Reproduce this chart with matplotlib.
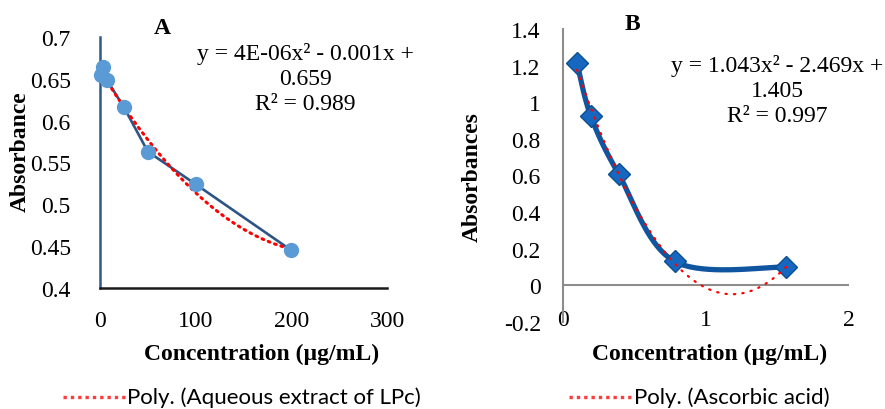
import numpy as np
import matplotlib.pyplot as plt
from matplotlib.lines import Line2D

# panel A: aqueous extract of LPc
conc_a = [1, 3, 7, 25, 50, 100, 200]
abs_a = [0.654, 0.664, 0.649, 0.616, 0.563, 0.524, 0.445]
xticks_a = [0, 100, 200, 300]
yticks_a = [0.4, 0.45, 0.5, 0.55, 0.6, 0.65, 0.7]
ylabels_a = ["0.4", "0.45", "0.5", "0.55", "0.6", "0.65", "0.7"]
eq_a = "y = 4E-06x² - 0.001x +\n0.659\nR² = 0.989"
legend_a = "Poly. (Aqueous extract of LPc)"

# panel B: ascorbic acid
conc_b = [0.098, 0.195, 0.39, 0.78, 1.5625]
abs_b = [1.213, 0.923, 0.607, 0.131, 0.100]
xticks_b = [0, 1, 2]
yticks_b = [-0.2, 0, 0.2, 0.4, 0.6, 0.8, 1, 1.2, 1.4]
ylabels_b = ["-0.2", "0", "0.2", "0.4", "0.6", "0.8", "1", "1.2", "1.4"]
eq_b = "y = 1.043x² - 2.469x +\n1.405\nR² = 0.997"
legend_b = "Poly. (Ascorbic acid)"

xlabel = "Concentration (µg/mL)"

W, H = 885, 410
SERIF = "Liberation Serif"
SANS = "Lato"
RED_DOT = (0, (0.6, 1.6))


def px(x, y):
    return x / W, 1 - y / H


def smooth(xs, ys, n=40):
    # excel-like smoothed line (catmull-rom through the points)
    p = np.column_stack([xs, ys]).astype(float)
    p = np.vstack([p[0], p, p[-1]])
    out = []
    t = np.linspace(0, 1, n)[:, None]
    for i in range(1, len(p) - 2):
        p0, p1, p2, p3 = p[i - 1], p[i], p[i + 1], p[i + 2]
        m1 = (p2 - p0) / 2
        m2 = (p3 - p1) / 2
        h00 = 2 * t**3 - 3 * t**2 + 1
        h10 = t**3 - 2 * t**2 + t
        h01 = -2 * t**3 + 3 * t**2
        h11 = t**3 - t**2
        out.append(h00 * p1 + h10 * m1 + h01 * p2 + h11 * m2)
    out = np.vstack(out)
    return out[:, 0], out[:, 1]


fig = plt.figure(figsize=(W / 100, H / 100), dpi=100)

# ---- A ----
axA = fig.add_axes([100 / W, 1 - 289 / H, 287 / W, 251 / H])
axA.plot(conc_a, abs_a, color="#2C5585", lw=1.9, zorder=2)
c = np.polyfit(conc_a, abs_a, 2)
xf = np.linspace(min(conc_a), max(conc_a), 200)
axA.plot(xf, np.polyval(c, xf), color="#FF0000", lw=2.2, ls=RED_DOT,
         dash_capstyle="round", zorder=3)
axA.plot(conc_a, abs_a, ls="none", marker="o", ms=10, color="#5B9BD5",
         mec="#5B9BD5", zorder=4, clip_on=False)
axA.set_xlim(0, 300)
axA.set_ylim(0.4, 0.7)
axA.set_xticks(xticks_a)
axA.set_yticks(yticks_a)
axA.set_yticklabels(ylabels_a)
axA.spines[["top", "right"]].set_visible(False)
axA.spines["left"].set_color("#2F5B8C")
axA.spines["left"].set_linewidth(1.8)
axA.spines["bottom"].set_color("#1A1A1A")
axA.spines["bottom"].set_linewidth(1.8)
axA.tick_params(length=0, labelsize=17, labelfontfamily=SERIF)
axA.tick_params(axis="x", pad=16)
axA.tick_params(axis="y", pad=21)

# ---- B ----
axB = fig.add_axes([563 / W, 1 - 323 / H, 286 / W, 293 / H])
axB.axhline(0, color="#8C8C8C", lw=1.5, zorder=1)
sx, sy = smooth(conc_b, abs_b)
axB.plot(sx, sy, color="#0F55A0", lw=3.8, solid_capstyle="round", zorder=2)
axB.plot(conc_b, abs_b, ls="none", marker="D", ms=11, color="#1667C0",
         mec="#0D4F8F", mew=1, zorder=3)
c = np.polyfit(conc_b, abs_b, 2)
xf = np.linspace(min(conc_b), max(conc_b), 200)
axB.plot(xf, np.polyval(c, xf), color="#FF0000", lw=1.6, ls=(0, (0.6, 3.2)),
         dash_capstyle="round", zorder=4)
axB.set_xlim(0, 2)
axB.set_ylim(-0.2, 1.4)
axB.set_xticks(xticks_b)
axB.set_yticks(yticks_b)
axB.set_yticklabels(ylabels_b)
axB.spines[["top", "right", "bottom"]].set_visible(False)
axB.spines["left"].set_color("#8C8C8C")
axB.spines["left"].set_linewidth(1.5)
axB.tick_params(length=0, labelsize=17, labelfontfamily=SERIF)
axB.tick_params(axis="x", pad=-9)
axB.tick_params(axis="y", pad=16)

# ---- texts ----
bold = dict(family=SERIF, fontsize=17, fontweight="bold", ha="center", va="center")
fig.text(*px(162, 28), "A", **bold)
fig.text(*px(632, 25), "B", **bold)
fig.text(*px(20, 152), "Absorbance", rotation=90, **bold)
fig.text(*px(472, 177), "Absorbances", rotation=90, **bold)
fig.text(*px(262, 354), xlabel, **bold)
fig.text(*px(710, 354), xlabel, **bold)

eq = dict(family=SERIF, fontsize=17, ha="center", va="center",
          multialignment="center", linespacing=1.25)
fig.text(*px(305, 79), eq_a, **eq)
fig.text(*px(777, 91), eq_b, **eq)

for x0, x1, label in [(63, 125, legend_a), (569, 632, legend_b)]:
    fig.add_artist(Line2D([x0 / W, x1 / W], [1 - 398 / H] * 2, color="#FF3B3B",
                          lw=2.4, ls=(0, (1, 1.2)), transform=fig.transFigure))
    fig.text(*px(x1 + 2, 398), label, family=SANS, fontsize=16, ha="left",
             va="center")

fig.savefig("out.png", dpi=100)
